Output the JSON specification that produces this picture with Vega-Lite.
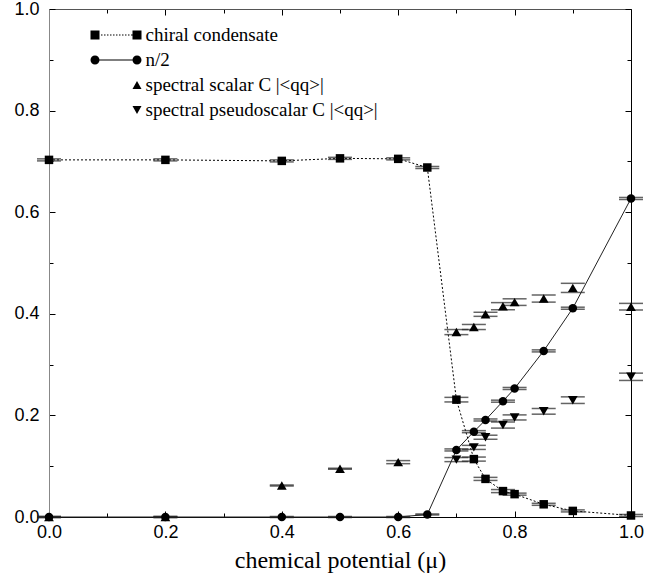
{
  "$schema": "https://vega.github.io/schema/vega-lite/v6.json",
  "width": 582,
  "height": 508,
  "autosize": "none",
  "padding": {"left": 49, "top": 9, "right": 15, "bottom": 61},
  "background": "white",
  "config": {
    "view": {"stroke": null},
    "axis": {"grid": false, "domainColor": "black", "tickColor": "black", "labelColor": "black", "titleColor": "black", "labelFont": "Liberation Sans", "labelFontSize": 18, "titleFont": "Liberation Serif", "titleFontSize": 24, "titleFontWeight": "normal"}
  },
  "datasets": {
    "pts": [
      {"series": "chiral condensate", "mu": 0.0, "v": 0.703, "lo": 0.701, "hi": 0.705},
      {"series": "chiral condensate", "mu": 0.2, "v": 0.703, "lo": 0.701, "hi": 0.705},
      {"series": "chiral condensate", "mu": 0.4, "v": 0.701, "lo": 0.699, "hi": 0.703},
      {"series": "chiral condensate", "mu": 0.5, "v": 0.706, "lo": 0.704, "hi": 0.708},
      {"series": "chiral condensate", "mu": 0.6, "v": 0.705, "lo": 0.703, "hi": 0.707},
      {"series": "chiral condensate", "mu": 0.65, "v": 0.688, "lo": 0.686, "hi": 0.690},
      {"series": "chiral condensate", "mu": 0.7, "v": 0.231, "lo": 0.2265, "hi": 0.2355},
      {"series": "chiral condensate", "mu": 0.73, "v": 0.114, "lo": 0.110, "hi": 0.118},
      {"series": "chiral condensate", "mu": 0.75, "v": 0.075, "lo": 0.072, "hi": 0.078},
      {"series": "chiral condensate", "mu": 0.78, "v": 0.051, "lo": 0.048, "hi": 0.054},
      {"series": "chiral condensate", "mu": 0.8, "v": 0.045, "lo": 0.043, "hi": 0.047},
      {"series": "chiral condensate", "mu": 0.85, "v": 0.025, "lo": 0.023, "hi": 0.027},
      {"series": "chiral condensate", "mu": 0.9, "v": 0.012, "lo": 0.010, "hi": 0.014},
      {"series": "chiral condensate", "mu": 1.0, "v": 0.003, "lo": 0.001, "hi": 0.005},
      {"series": "n/2", "mu": 0.0, "v": 0.0, "lo": -0.001, "hi": 0.001},
      {"series": "n/2", "mu": 0.2, "v": 0.0, "lo": -0.001, "hi": 0.001},
      {"series": "n/2", "mu": 0.4, "v": 0.0, "lo": -0.001, "hi": 0.001},
      {"series": "n/2", "mu": 0.5, "v": 0.0, "lo": -0.001, "hi": 0.001},
      {"series": "n/2", "mu": 0.6, "v": 0.0, "lo": -0.001, "hi": 0.001},
      {"series": "n/2", "mu": 0.65, "v": 0.005, "lo": 0.004, "hi": 0.006},
      {"series": "n/2", "mu": 0.7, "v": 0.132, "lo": 0.130, "hi": 0.134},
      {"series": "n/2", "mu": 0.73, "v": 0.168, "lo": 0.166, "hi": 0.170},
      {"series": "n/2", "mu": 0.75, "v": 0.191, "lo": 0.189, "hi": 0.193},
      {"series": "n/2", "mu": 0.78, "v": 0.228, "lo": 0.226, "hi": 0.230},
      {"series": "n/2", "mu": 0.8, "v": 0.253, "lo": 0.251, "hi": 0.255},
      {"series": "n/2", "mu": 0.85, "v": 0.327, "lo": 0.325, "hi": 0.329},
      {"series": "n/2", "mu": 0.9, "v": 0.411, "lo": 0.409, "hi": 0.413},
      {"series": "n/2", "mu": 1.0, "v": 0.627, "lo": 0.625, "hi": 0.629},
      {"series": "spectral scalar C |<qq>|", "mu": 0.0, "v": 0.0, "lo": -0.001, "hi": 0.001},
      {"series": "spectral scalar C |<qq>|", "mu": 0.2, "v": 0.0, "lo": -0.001, "hi": 0.001},
      {"series": "spectral scalar C |<qq>|", "mu": 0.4, "v": 0.062, "lo": 0.061, "hi": 0.063},
      {"series": "spectral scalar C |<qq>|", "mu": 0.5, "v": 0.095, "lo": 0.094, "hi": 0.096},
      {"series": "spectral scalar C |<qq>|", "mu": 0.6, "v": 0.108, "lo": 0.105, "hi": 0.111},
      {"series": "spectral scalar C |<qq>|", "mu": 0.7, "v": 0.364, "lo": 0.359, "hi": 0.369},
      {"series": "spectral scalar C |<qq>|", "mu": 0.73, "v": 0.374, "lo": 0.369, "hi": 0.379},
      {"series": "spectral scalar C |<qq>|", "mu": 0.75, "v": 0.399, "lo": 0.395, "hi": 0.403},
      {"series": "spectral scalar C |<qq>|", "mu": 0.78, "v": 0.415, "lo": 0.408, "hi": 0.422},
      {"series": "spectral scalar C |<qq>|", "mu": 0.8, "v": 0.423, "lo": 0.4165, "hi": 0.4295},
      {"series": "spectral scalar C |<qq>|", "mu": 0.85, "v": 0.430, "lo": 0.423, "hi": 0.437},
      {"series": "spectral scalar C |<qq>|", "mu": 0.9, "v": 0.451, "lo": 0.442, "hi": 0.460},
      {"series": "spectral scalar C |<qq>|", "mu": 1.0, "v": 0.414, "lo": 0.4075, "hi": 0.4205},
      {"series": "spectral pseudoscalar C |<qq>|", "mu": 0.7, "v": 0.113, "lo": 0.109, "hi": 0.117},
      {"series": "spectral pseudoscalar C |<qq>|", "mu": 0.73, "v": 0.137, "lo": 0.133, "hi": 0.141},
      {"series": "spectral pseudoscalar C |<qq>|", "mu": 0.75, "v": 0.157, "lo": 0.153, "hi": 0.161},
      {"series": "spectral pseudoscalar C |<qq>|", "mu": 0.78, "v": 0.181, "lo": 0.175, "hi": 0.187},
      {"series": "spectral pseudoscalar C |<qq>|", "mu": 0.8, "v": 0.196, "lo": 0.191, "hi": 0.201},
      {"series": "spectral pseudoscalar C |<qq>|", "mu": 0.85, "v": 0.208, "lo": 0.2024, "hi": 0.2136},
      {"series": "spectral pseudoscalar C |<qq>|", "mu": 0.9, "v": 0.230, "lo": 0.2235, "hi": 0.2365},
      {"series": "spectral pseudoscalar C |<qq>|", "mu": 1.0, "v": 0.276, "lo": 0.2688, "hi": 0.2832}
    ]
  },
  "data": {"name": "pts"},
  "resolve": {"axis": {"x": "independent", "y": "independent"}},
  "layer": [
    {
      "transform": [{"filter": "datum.series === 'chiral condensate'"}],
      "mark": {"type": "line", "color": "black", "strokeWidth": 1, "strokeDash": [2, 2]},
      "encoding": {
        "x": {"field": "mu", "type": "quantitative", "scale": {"domain": [0, 1], "nice": false},
          "axis": {"orient": "bottom", "title": "chemical potential (μ)", "titlePadding": 7, "values": [0, 0.1, 0.2, 0.3, 0.4, 0.5, 0.6, 0.7, 0.8, 0.9, 1.0],
            "labelExpr": "round(datum.value*10) % 2 == 0 ? format(datum.value, '.1f') : ''",
            "tickSize": {"condition": {"test": "round(datum.value*10) % 2 == 0", "value": -6}, "value": -4},
            "labelPadding": 12, "labelFlush": false, "domainColor": "black"}},
        "y": {"field": "v", "type": "quantitative", "scale": {"domain": [0, 1], "nice": false},
          "axis": {"orient": "left", "title": null, "values": [0, 0.1, 0.2, 0.3, 0.4, 0.5, 0.6, 0.7, 0.8, 0.9, 1.0],
            "labelExpr": "round(datum.value*10) % 2 == 0 ? format(datum.value, '.1f') : ''",
            "tickSize": {"condition": {"test": "round(datum.value*10) % 2 == 0", "value": -6}, "value": -4},
            "labelPadding": 16, "labelFlush": false, "domainColor": "#888888"}}
      }
    },
    {
      "transform": [{"filter": "datum.series === 'n/2'"}],
      "mark": {"type": "line", "color": "#222222", "strokeWidth": 1},
      "encoding": {
        "x": {"field": "mu", "type": "quantitative", "axis": null},
        "y": {"field": "v", "type": "quantitative", "axis": null}
      }
    },
    {
      "mark": {"type": "tick", "orient": "horizontal", "size": 24, "thickness": 1.5, "color": "#222222"},
      "encoding": {
        "x": {"field": "mu", "type": "quantitative", "axis": null},
        "y": {"field": "lo", "type": "quantitative", "axis": null}
      }
    },
    {
      "mark": {"type": "tick", "orient": "horizontal", "size": 24, "thickness": 1.5, "color": "#222222"},
      "encoding": {
        "x": {"field": "mu", "type": "quantitative", "axis": null},
        "y": {"field": "hi", "type": "quantitative", "axis": null}
      }
    },
    {
      "transform": [{"filter": "datum.series === 'chiral condensate'"}],
      "mark": {"type": "point", "shape": "square", "filled": true, "color": "black", "opacity": 1, "size": 72},
      "encoding": {
        "x": {"field": "mu", "type": "quantitative", "axis": null},
        "y": {"field": "v", "type": "quantitative", "axis": null}
      }
    },
    {
      "transform": [{"filter": "datum.series === 'n/2'"}],
      "mark": {"type": "point", "shape": "circle", "filled": true, "color": "black", "opacity": 1, "size": 72},
      "encoding": {
        "x": {"field": "mu", "type": "quantitative", "axis": null},
        "y": {"field": "v", "type": "quantitative", "axis": null}
      }
    },
    {
      "transform": [{"filter": "datum.series === 'spectral scalar C |<qq>|'"}],
      "mark": {"type": "point", "shape": "triangle-up", "filled": true, "color": "black", "opacity": 1, "size": 95},
      "encoding": {
        "x": {"field": "mu", "type": "quantitative", "axis": null},
        "y": {"field": "v", "type": "quantitative", "axis": null}
      }
    },
    {
      "transform": [{"filter": "datum.series === 'spectral pseudoscalar C |<qq>|'"}],
      "mark": {"type": "point", "shape": "triangle-down", "filled": true, "color": "black", "opacity": 1, "size": 95},
      "encoding": {
        "x": {"field": "mu", "type": "quantitative", "axis": null},
        "y": {"field": "v", "type": "quantitative", "axis": null}
      }
    },
    {
      "transform": [{"filter": "false"}],
      "mark": {"type": "point", "filled": true, "color": "black", "opacity": 1},
      "encoding": {
        "x": {"field": "mu", "type": "quantitative",
          "axis": {"orient": "top", "title": null, "labels": false, "values": [0, 0.1, 0.2, 0.3, 0.4, 0.5, 0.6, 0.7, 0.8, 0.9, 1.0],
            "tickSize": {"condition": {"test": "round(datum.value*10) % 2 == 0", "value": -6}, "value": -4}, "domainColor": "#555555"}},
        "y": {"field": "v", "type": "quantitative",
          "axis": {"orient": "right", "title": null, "labels": false, "values": [0, 0.1, 0.2, 0.3, 0.4, 0.5, 0.6, 0.7, 0.8, 0.9, 1.0],
            "tickSize": {"condition": {"test": "round(datum.value*10) % 2 == 0", "value": -6}, "value": -4}, "domainColor": "black"}},
        "shape": {"field": "series", "type": "nominal",
          "scale": {
            "domain": ["chiral condensate", "n/2", "spectral scalar C |<qq>|", "spectral pseudoscalar C |<qq>|"],
            "range": [
              "M-10.333,-1H-8.333V1H-10.333Z M-1,-1H1V1H-1Z M-8,-0.11h0.33v0.22h-0.33Z M-7.33,-0.11h0.33v0.22h-0.33Z M-6.67,-0.11h0.33v0.22h-0.33Z M-6,-0.11h0.33v0.22h-0.33Z M-5.33,-0.11h0.33v0.22h-0.33Z M-4.67,-0.11h0.33v0.22h-0.33Z M-4,-0.11h0.33v0.22h-0.33Z M-3.33,-0.11h0.33v0.22h-0.33Z M-2.67,-0.11h0.33v0.22h-0.33Z M-2,-0.11h0.33v0.22h-0.33Z M-1.33,-0.11h0.33v0.22h-0.33Z",
              "M-10.333,0A1,1 0 1,1 -8.333,0A1,1 0 1,1 -10.333,0Z M-1,0A1,1 0 1,1 1,0A1,1 0 1,1 -1,0Z M-8.6,-0.12H-0.7V0.12H-8.6Z",
              "triangle-up",
              "triangle-down"
            ]
          },
          "legend": {"title": null, "orient": "none", "legendX": 78.5, "legendY": 16.5, "padding": 0, "symbolSize": 81, "symbolFillColor": "black", "symbolStrokeWidth": 0, "labelFont": "Liberation Serif", "labelFontSize": 19, "labelColor": "black", "labelOffset": -1, "rowPadding": 5, "labelLimit": 400}
        }
      }
    }
  ]
}
